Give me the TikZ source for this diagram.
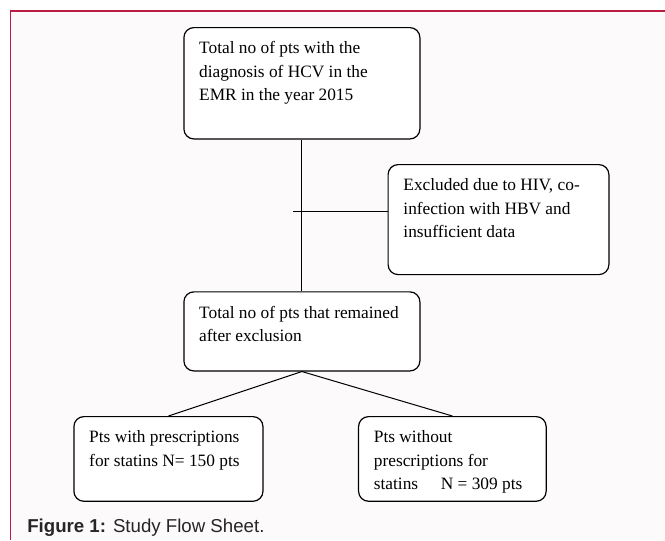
\documentclass[tikz,border=0pt]{standalone}
\usepackage{fontspec}
\setmainfont{Liberation Serif}
\newfontfamily\captionfont{Liberation Sans}
\usetikzlibrary{positioning}
\definecolor{framered}{RGB}{186,28,68}
\definecolor{pagebg}{RGB}{252,250,251}
\tikzset{flowbox/.style 2 args={draw,line width=0.9pt,rounded corners=7.5pt,fill=white,
  inner sep=0pt,font=\fontsize{13}{17.5}\selectfont,
  execute at begin node={\begin{minipage}[c][#2][t]{#1}\raggedright\leftskip=11.5pt\rule{0pt}{19.7pt}},
  execute at end node={\end{minipage}}}}
\tikzstyle{link}=[draw,line width=0.75pt]
\tikzstyle{caption}=[inner sep=0pt,font=\captionfont\fontsize{14}{16}\selectfont,text=black!85]

\begin{document}
\begin{tikzpicture}[x=0.75pt,y=-0.75pt]
  \useasboundingbox (0,0) rectangle (665,540);
  % page frame
  \fill[pagebg] (10.7,11) rectangle (665,540);
  \draw[framered,line width=1pt] (10.7,540) -- (10.7,11) -- (665,11);

  \node[flowbox={177pt}{83.5pt},anchor=north west] (total) at (183.3,27)
    {Total no of pts with the\\diagnosis of HCV in the\\EMR in the year 2015};
  \node[flowbox={165.6pt}{82.5pt},anchor=north west] (excl) at (387.5,164)
    {Excluded due to HIV, co-\\infection with HBV and\\insufficient data};
  \node[flowbox={177pt}{59.3pt},below=113.8pt of total] (remain)
    {Total no of pts that remained\\after exclusion};
  \node[flowbox={141.8pt}{63.5pt},anchor=north west] (with) at (73.3,416)
    {Pts with prescriptions\\for statins N= 150 pts};
  \node[flowbox={140.7pt}{63.5pt},right=70.8pt of with] (without)
    {Pts without\\prescriptions for\\statins\hspace{17pt}N = 309 pts};

  \coordinate (stub) at (293,211);
  \path[link] (total) -- (remain);
  \path[link] (stub) -- (stub -| excl.west);
  \path[link] (remain.south) -- (with.north);
  \path[link] (remain.south) -- (without.north);

  \node[caption,anchor=base west] (cap) at (27,532.3)
    {\textbf{Figure 1:} Study Flow Sheet.};
\end{tikzpicture}
\end{document}
